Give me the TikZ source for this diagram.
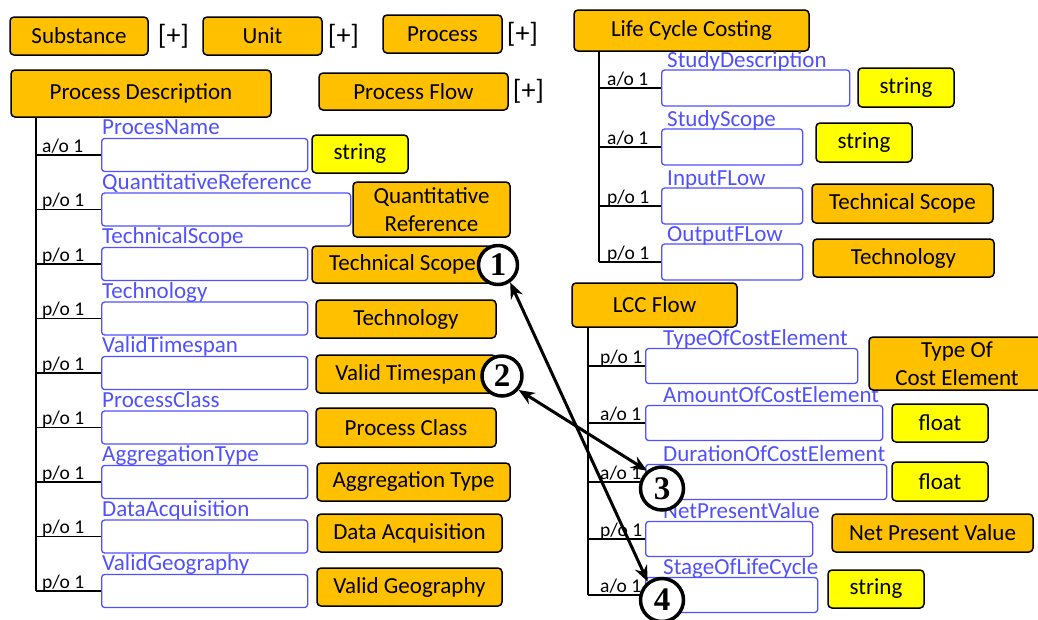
\documentclass[tikz,border=0pt]{standalone}
\usepackage{fontspec}
\setmainfont{Carlito}
\newfontfamily\numfont{Liberation Serif}
\usetikzlibrary{positioning,arrows.meta}

\definecolor{lccorange}{RGB}{255,192,0}
\definecolor{lccyellow}{RGB}{255,255,0}
\definecolor{fieldblue}{RGB}{80,80,255}

\begin{document}
\begin{tikzpicture}[
    x = 1pt, y = -1pt,
    line join=round,
    >={Stealth[length=16pt, width=13pt]},
    concept/.style = {draw, line width=1.5pt, rounded corners=4pt, fill=lccorange, inner sep=0pt, align=center, font=\fontsize{23}{28}\selectfont},
    datatype/.style = {concept, fill=lccyellow},
    field/.style = {draw=fieldblue, line width=1.3pt, rounded corners=3pt, fill=white, inner sep=0pt, anchor=west},
    fieldname/.style = {text=fieldblue, inner sep=0pt, anchor=base west, font=\fontsize{23}{25}\selectfont},
    card/.style = {inner sep=0pt, anchor=base west, font=\fontsize{19.5}{22}\selectfont},
    more/.style = {inner sep=0pt, font=\fontsize{28}{30}\selectfont},
    tree/.style = {line width=1.5pt},
    marker/.style = {circle, draw, line width=3.5pt, fill=white, inner sep=0pt, font=\fontsize{33}{33}\numfont\bfseries},
    link/.style = {<->, line width=3pt}
]

    \useasboundingbox (0,0) rectangle (1038,619);
    \clip (0,0) rectangle (1038,619);

    \node[concept, minimum width=138, minimum height=38] (substance) at (79,36) {Substance};
    \node[concept, minimum width=119, minimum height=38] (unit) at (262.5,36) {Unit};
    \node[concept, minimum width=119, minimum height=38] (process) at (442.5,34) {Process};
    \node[concept, minimum width=260, minimum height=47] (procdesc) at (141,93.5) {Process Description};
    \node[concept, minimum width=189, minimum height=37] (procflow) at (413.5,91.5) {Process Flow};

    \node[more, right=9pt of substance] (substance-more) {[+]};
    \node[more, right=5pt of unit] (unit-more) {[+]};
    \node[more, right=4pt of process] (process-more) {[+]};
    \node[more, right=4pt of procflow] (procflow-more) {[+]};

    % process description
    \coordinate (pdtrunk) at (36,117);
    \foreach \field/\kind/\y/\boxw [count=\i] in {ProcesName/a/155/206, QuantitativeReference/p/209.5/249,
            TechnicalScope/p/264/206, Technology/p/318.5/206, ValidTimespan/p/373/206, ProcessClass/p/427.5/206,
            AggregationType/p/482/206, DataAcquisition/p/536.5/206, ValidGeography/p/591/206} {
        \node[field, minimum width=\boxw, minimum height=33] (pd-\i) at (101,\y) {};
        \node[fieldname] at ([shift={(1,-3)}]pd-\i.north west) {\field};
        \node[card] at (42,\y-3) {\kind/o 1};
        \draw[tree] (pd-\i.west -| pdtrunk) -- (pd-\i.west);
    }
    \draw[tree] (pdtrunk) -- (pdtrunk |- pd-9.west);

    \node[datatype, minimum width=96, minimum height=38] (pd-string) at (360,154) {string};
    \node[concept, minimum width=157, minimum height=55] (pd-quant) at (431.5,209.5) {Quantitative\\Reference};
    \node[concept, minimum width=181, minimum height=37] (pd-scope) at (402.5,264.5) {Technical Scope};
    \node[concept, minimum width=180, minimum height=38] (pd-tech) at (406,319) {Technology};
    \node[concept, minimum width=180, minimum height=38] (pd-time) at (406,374) {Valid Timespan};
    \node[concept, minimum width=180, minimum height=39] (pd-class) at (406,427.5) {Process Class};
    \node[concept, minimum width=193, minimum height=38] (pd-aggr) at (413.5,482) {Aggregation Type};
    \node[concept, minimum width=185, minimum height=38] (pd-acq) at (409.5,533) {Data Acquisition};
    \node[concept, minimum width=185, minimum height=38] (pd-geo) at (409.5,587) {Valid Geography};

    % life cycle costing
    \node[concept, minimum width=235, minimum height=41] (lcc) at (691.5,30.5) {Life Cycle Costing};
    \coordinate (lcctrunk) at (599,51);
    \foreach \field/\kind/\y/\boxw [count=\i] in {StudyDescription/a/88/188, StudyScope/a/147/141,
            InputFLow/p/206/141, OutputFLow/p/262/141} {
        \node[field, minimum width=\boxw, minimum height=36] (lcc-\i) at (661,\y) {};
        \node[fieldname] at ([shift={(6,-2)}]lcc-\i.north west) {\field};
        \node[card] at (607,\y-3) {\kind/o 1};
        \draw[tree] (lcc-\i.west -| lcctrunk) -- (lcc-\i.west);
    }
    \draw[tree] (lcctrunk) -- (lcctrunk |- lcc-4.west);

    \node[datatype, minimum width=96, minimum height=39] (lcc-string-a) at (906,87.5) {string};
    \node[datatype, minimum width=96, minimum height=39] (lcc-string-b) at (864,142.5) {string};
    \node[concept, minimum width=181, minimum height=39] (lcc-scope) at (902.5,203.5) {Technical Scope};
    \node[concept, minimum width=181, minimum height=38] (lcc-tech) at (903.5,258) {Technology};

    % lcc flow
    \node[concept, minimum width=165, minimum height=44] (lccflow) at (654.5,305) {LCC Flow};
    \coordinate (flowtrunk) at (588,327);
    \foreach \field/\kind/\y/\boxw [count=\i] in {TypeOfCostElement/p/366/212, AmountOfCostElement/a/423/237,
            DurationOfCostElement/a/482/241, NetPresentValue/p/539/167, StageOfLifeCycle/a/595/172} {
        \node[field, minimum width=\boxw, minimum height=35] (flow-\i) at (645,\y) {};
        \node[fieldname] at ([shift={(18,-2)}]flow-\i.north west) {\field};
        \node[card] at (600,\y-3) {\kind/o 1};
        \draw[tree] (flow-\i.west -| flowtrunk) -- (flow-\i.west);
    }
    \draw[tree] (flowtrunk) -- (flowtrunk |- flow-5.west);

    \node[concept, minimum width=176, minimum height=53] (flow-type) at (957,363.5) {Type Of\\Cost Element};
    \node[datatype, minimum width=96, minimum height=38] (flow-float-a) at (940,423) {float};
    \node[datatype, minimum width=96, minimum height=39] (flow-float-b) at (940,481.5) {float};
    \node[concept, minimum width=201, minimum height=38] (flow-npv) at (932.5,533) {Net Present Value};
    \node[datatype, minimum width=96, minimum height=38] (flow-string) at (876,589) {string};

    \node[marker, minimum size=39] (m1) at (498,265) {1};
    \node[marker, minimum size=40] (m2) at (502,376) {2};
    \node[marker, minimum size=43] (m3) at (662,488.5) {3};
    \node[marker, minimum size=43] (m4) at (662,600) {4};

    \draw[link] (m1.-55) -- (m4.128);
    \draw[link] (m2.-40) -- (m3.130);

\end{tikzpicture}
\end{document}
